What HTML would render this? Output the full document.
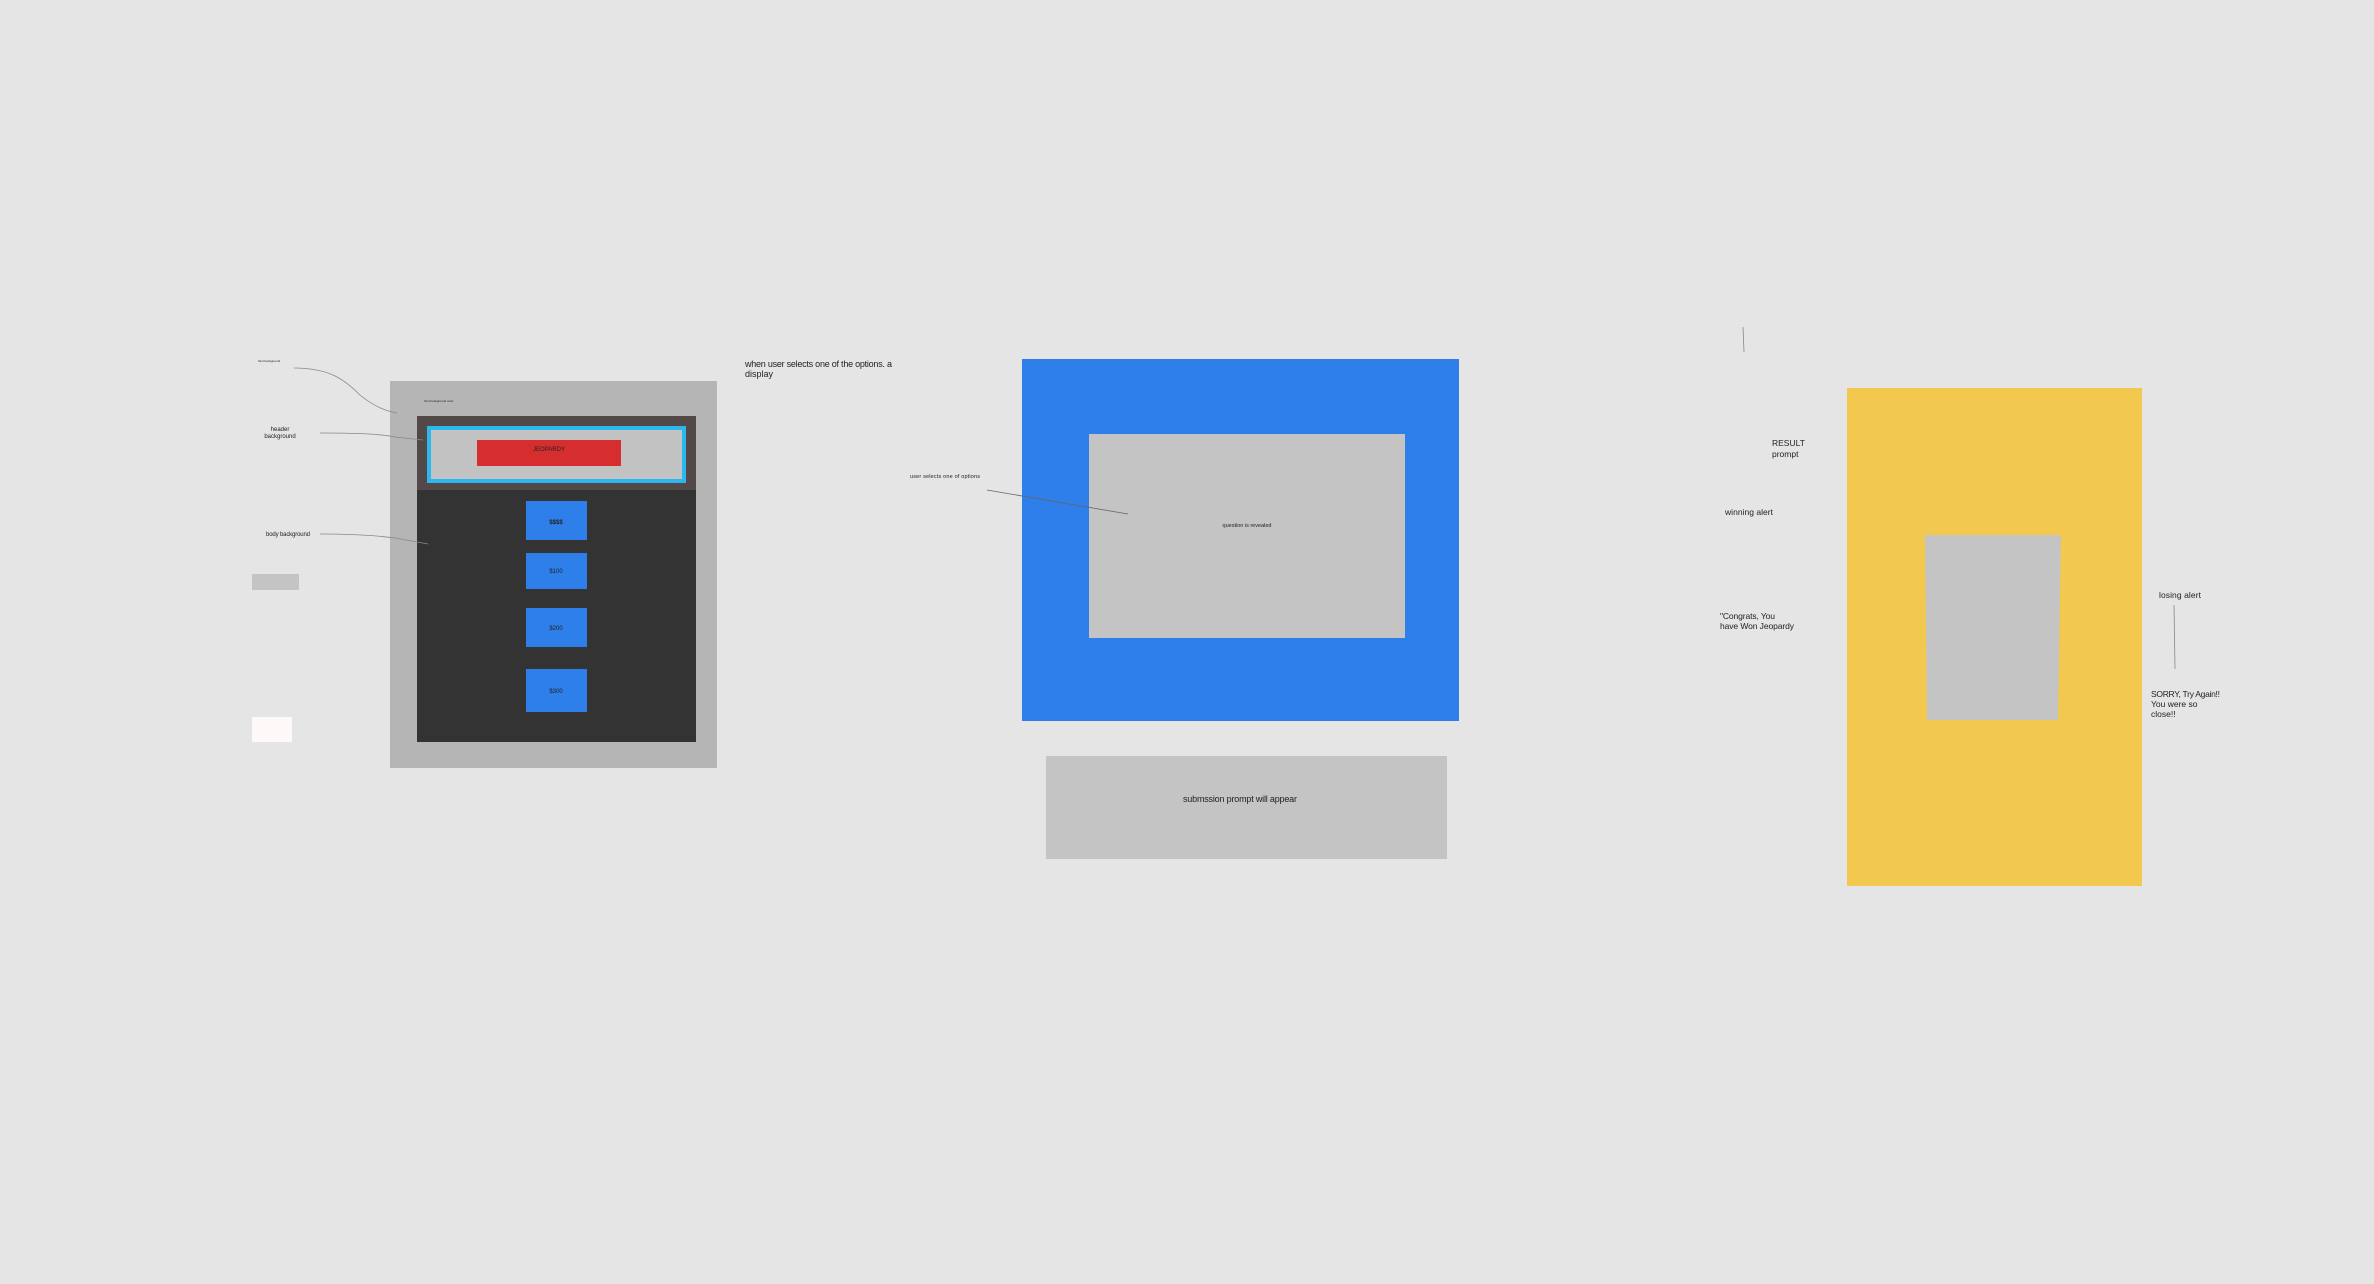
<!DOCTYPE html>
<html><head><meta charset="utf-8"><style>
html,body{margin:0;padding:0;background:#e5e5e5;}
svg{display:block;}
text{font-family:"Liberation Sans",sans-serif;fill:#222;}
</style></head><body>
<svg width="2374" height="1284" viewBox="0 0 2374 1284" xmlns="http://www.w3.org/2000/svg">
<rect width="2374" height="1284" fill="#e5e5e5"/>
<!-- left mockup -->
<rect x="390" y="381" width="327" height="387" fill="#b5b5b5"/>
<rect x="417" y="416" width="279" height="74" fill="#534848"/>
<rect x="429" y="428" width="255" height="53" fill="#c2c2c2" stroke="#2bb8f0" stroke-width="4"/>
<rect x="477" y="440" width="144" height="26" fill="#d62e2e"/>
<text x="549" y="451" font-size="6" text-anchor="middle">JEOPARDY</text>
<rect x="417" y="490" width="279" height="252" fill="#333333"/>
<rect x="526" y="501" width="61" height="39" fill="#2f7fea"/>
<rect x="526" y="553" width="61" height="36" fill="#2f7fea"/>
<rect x="526" y="608" width="61" height="39" fill="#2f7fea"/>
<rect x="526" y="669" width="61" height="43" fill="#2f7fea"/>
<text x="556" y="524" font-size="6" text-anchor="middle" font-weight="bold">$$$$</text>
<text x="556" y="573" font-size="6" text-anchor="middle">$100</text>
<text x="556" y="630" font-size="6" text-anchor="middle">$200</text>
<text x="556" y="693" font-size="6" text-anchor="middle">$300</text>
<text x="424" y="402" font-size="3">html background color</text>
<text x="258" y="362" font-size="3">html background</text>
<text x="280" y="431" font-size="6" text-anchor="middle">header</text>
<text x="280" y="438" font-size="6" text-anchor="middle">background</text>
<text x="266" y="536" font-size="6" textLength="44">body background</text>
<path d="M294 368 C330 368 345 380 360 395 C372 405 385 411 397 413" fill="none" stroke="#888" stroke-width="0.8"/>
<path d="M320 433 C360 433 380 434 395 437 L423 440" fill="none" stroke="#888" stroke-width="0.8"/>
<path d="M320 534 C360 534 380 536 395 538 L428 544" fill="none" stroke="#888" stroke-width="0.8"/>
<rect x="252" y="574" width="47" height="16" fill="#c4c4c4"/>
<rect x="252" y="717" width="40" height="25" fill="#fdf9f8"/>
<!-- middle -->
<text x="745" y="367" font-size="9" textLength="147">when user selects one of the options. a</text>
<text x="745" y="377" font-size="9">display</text>
<rect x="1022" y="359" width="437" height="362" fill="#2f7fea"/>
<rect x="1089" y="434" width="316" height="204" fill="#c4c4c4"/>
<text x="910" y="478" font-size="5.5" textLength="70">user  selects one of options</text>
<line x1="987" y1="490" x2="1128" y2="514" stroke="#666" stroke-width="0.8"/>
<text x="1247" y="527" font-size="5.5" text-anchor="middle">question is revealed</text>
<rect x="1046" y="756" width="401" height="103" fill="#c4c4c4"/>
<text x="1240" y="802" font-size="9" text-anchor="middle" textLength="114">submssion prompt will appear</text>
<!-- right -->
<line x1="1743" y1="327" x2="1744" y2="352" stroke="#888" stroke-width="0.8"/>
<rect x="1847" y="388" width="295" height="498" fill="#f2c84e"/>
<polygon points="1925,535 2061,535 2058,720 1927,720" fill="#c4c4c4"/>
<text x="1772" y="446" font-size="8.5">RESULT</text>
<text x="1772" y="457" font-size="8.5">prompt</text>
<text x="1725" y="515" font-size="8.5" textLength="48">winning alert</text>
<text x="1720" y="619" font-size="8.5" textLength="55">"Congrats, You</text>
<text x="1720" y="629" font-size="8.5" textLength="74">have Won Jeopardy</text>
<text x="2159" y="598" font-size="8.5" textLength="42">losing alert</text>
<line x1="2174" y1="605" x2="2175" y2="669" stroke="#888" stroke-width="0.8"/>
<text x="2151" y="697" font-size="8.5" textLength="69">SORRY, Try Again!!</text>
<text x="2151" y="707" font-size="8.5">You were so</text>
<text x="2151" y="717" font-size="8.5">close!!</text>
</svg>
</body></html>
